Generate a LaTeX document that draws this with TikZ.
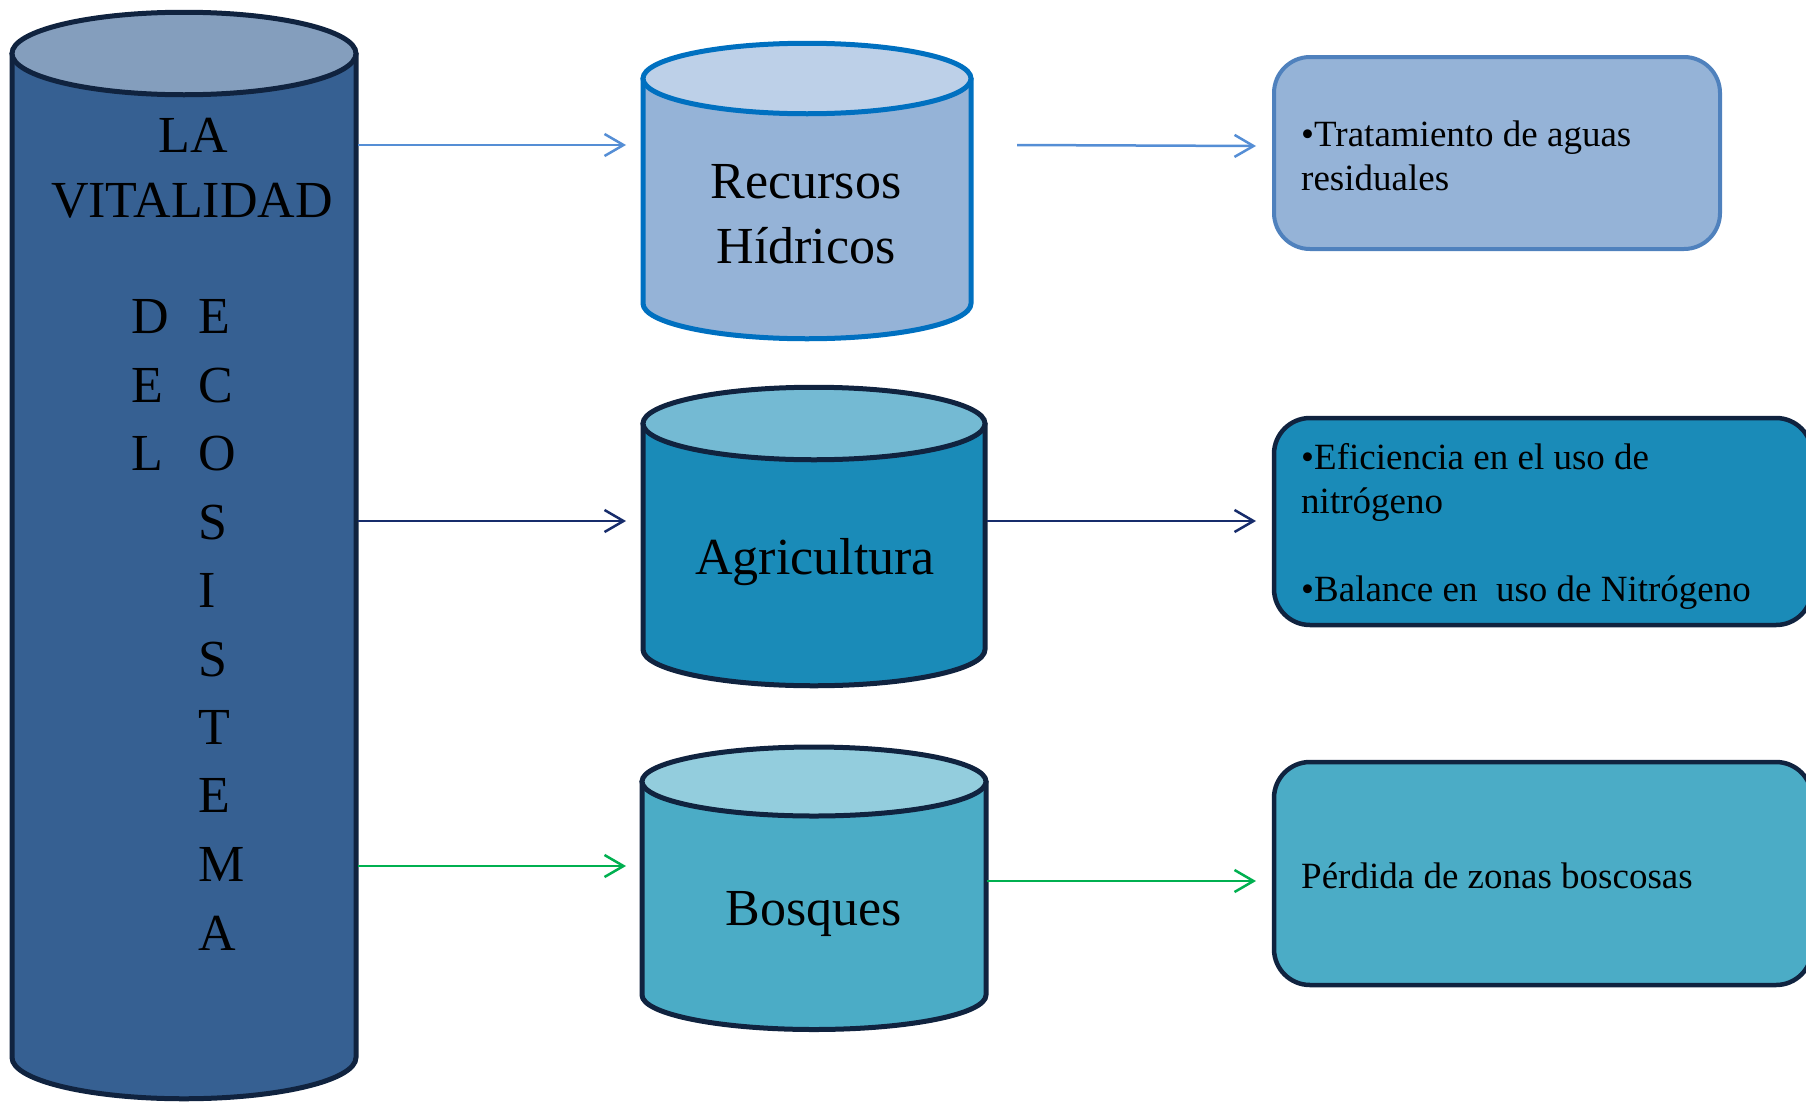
\documentclass[tikz,border=0pt]{standalone}
\usepackage{fontspec}
\setmainfont{Liberation Serif}
\usetikzlibrary{arrows.meta}
\definecolor{bigbody}{HTML}{366092}
\definecolor{bigtop}{HTML}{849EBD}
\definecolor{navyline}{HTML}{10233F}
\definecolor{recbody}{HTML}{95B3D7}
\definecolor{rectop}{HTML}{BDD0E8}
\definecolor{recline}{HTML}{0070C0}
\definecolor{agrbody}{HTML}{1A8BB8}
\definecolor{agrtop}{HTML}{74BAD3}
\definecolor{bosbody}{HTML}{4BACC6}
\definecolor{bostop}{HTML}{93CDDD}
\definecolor{boxoneline}{HTML}{4F81BD}
\definecolor{arrblue}{HTML}{558ED5}
\definecolor{arrnavy}{HTML}{172C6B}
\definecolor{arrgreen}{HTML}{00B050}
\newcommand\mycyl[8]{%
  \filldraw[fill=#6,draw=#8,line width=5pt,line join=round]
    (#1-#4,#2) -- (#1-#4,#3) arc[start angle=180,end angle=360,x radius=#4,y radius=#5] -- (#1+#4,#2) -- cycle;
  \filldraw[fill=#7,draw=#8,line width=5pt] (#1,#2) ellipse[x radius=#4,y radius=#5];
}
\tikzset{
  bigtxt/.style={inner sep=0pt,font=\fontsize{52}{65}\selectfont},
  boxtxt/.style={inner sep=0pt,anchor=base west,font=\fontsize{37}{45}\selectfont},
  infobox/.style={line width=4.5pt,rounded corners=36pt},
  conn/.style={line width=2.5pt,-{Straight Barb[length=19pt,width=22pt]}}
}
\begin{document}
\begin{tikzpicture}[x=1pt,y=1pt]
\useasboundingbox (0,0) rectangle (1806,-1103);
\clip (0,0) rectangle (1806,-1103);
% cylinders
\mycyl{184}{-53.5}{-1057.5}{172}{41.25}{bigbody}{bigtop}{navyline}
\mycyl{807}{-78.5}{-303.5}{164}{35.25}{recbody}{rectop}{recline}
\mycyl{814}{-423.5}{-649.5}{171}{36.25}{agrbody}{agrtop}{navyline}
\mycyl{814}{-781.5}{-995}{172}{34.5}{bosbody}{bostop}{navyline}
% boxes
\filldraw[infobox,fill=recbody,draw=boxoneline,line width=4pt] (1274,-57) rectangle (1720,-249);
\filldraw[infobox,fill=agrbody,draw=navyline] (1274,-418) rectangle (1812,-625);
\filldraw[infobox,fill=bosbody,draw=navyline] (1274,-762) rectangle (1812,-985);
% big cylinder text
\node[bigtxt,anchor=base] (la) at (193,-152) {LA};
\node[bigtxt,anchor=base] (vit) at (192,-217) {VITALIDAD};
\node[bigtxt,anchor=base west] (l1) at (131,-333) {D};
\node[bigtxt,anchor=base west] (l2) at (131,-402) {E};
\node[bigtxt,anchor=base west] (l3) at (131,-470) {L};
\node[bigtxt,anchor=base west] (r1) at (198,-333) {E};
\node[bigtxt,anchor=base west] (r2) at (198,-402) {C};
\node[bigtxt,anchor=base west] (r3) at (198,-470) {O};
\node[bigtxt,anchor=base west] (r4) at (198,-539) {S};
\node[bigtxt,anchor=base west] (r5) at (198,-607) {I};
\node[bigtxt,anchor=base west] (r6) at (198,-676) {S};
\node[bigtxt,anchor=base west] (r7) at (198,-744) {T};
\node[bigtxt,anchor=base west] (r8) at (198,-812) {E};
\node[bigtxt,anchor=base west] (r9) at (198,-881) {M};
\node[bigtxt,anchor=base west] (r10) at (198,-950) {A};
% middle cylinder text
\node[bigtxt,anchor=base] (rec1) at (806,-198) {Recursos};
\node[bigtxt,anchor=base] (rec2) at (806,-263) {Hídricos};
\node[bigtxt,anchor=base] (agr) at (815,-574) {Agricultura};
\node[bigtxt,anchor=base] (bos) at (814,-925) {Bosques};
% box text
\node[boxtxt] (b1a) at (1301,-146) {•Tratamiento de aguas};
\node[boxtxt] (b1b) at (1301,-190) {residuales};
\node[boxtxt] (b2a) at (1301,-469) {•Eficiencia en el uso de};
\node[boxtxt] (b2b) at (1301,-513) {nitrógeno};
\node[boxtxt] (b2c) at (1301,-601) {•Balance en\ \ uso de Nitrógeno};
\node[boxtxt] (b3a) at (1301,-888) {Pérdida de zonas boscosas};
% connector end points
\coordinate (a1s) at (358,-145);  \coordinate (a1e) at (626,-145);
\coordinate (a2s) at (358,-521);  \coordinate (a2e) at (626,-521);
\coordinate (a3s) at (358,-866);  \coordinate (a3e) at (626,-866);
\coordinate (a4s) at (1017,-145); \coordinate (a4e) at (1256,-146);
\coordinate (a5s) at (987,-521);  \coordinate (a5e) at (1256,-521);
\coordinate (a6s) at (987,-881);  \coordinate (a6e) at (1256,-881);
\draw[conn,draw=arrblue] (a1s) -- (a1e);
\draw[conn,draw=arrnavy] (a2s) -- (a2e);
\draw[conn,draw=arrgreen] (a3s) -- (a3e);
\draw[conn,draw=arrblue] (a4s) -- (a4e);
\draw[conn,draw=arrnavy] (a5s) -- (a5e);
\draw[conn,draw=arrgreen] (a6s) -- (a6e);
\end{tikzpicture}
\end{document}
